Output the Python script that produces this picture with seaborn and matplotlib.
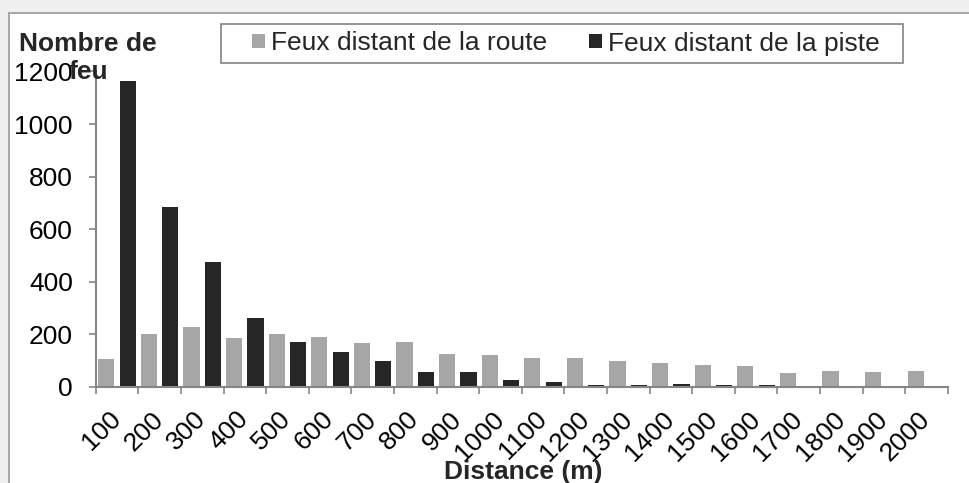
import matplotlib
matplotlib.use("Agg")
import matplotlib.pyplot as plt
from matplotlib.patches import Rectangle
import seaborn as sns
import pandas as pd
import numpy as np

# ---- data ----
distances = ["100", "200", "300", "400", "500", "600", "700", "800", "900", "1000",
             "1100", "1200", "1300", "1400", "1500", "1600", "1700", "1800", "1900", "2000"]
route = [108, 200, 229, 187, 201, 189, 168, 172, 125, 120,
         109, 109, 98, 91, 84, 79, 52, 61, 56, 60]
piste = [1162, 685, 474, 261, 170, 132, 98, 56, 56, 28,
         19, 6, 8, 11, 6, 6, 0, 0, 2, 0]
series_names = ["Feux distant de la route", "Feux distant de la piste"]
colors = ["#a6a6a6", "#262626"]
y_ticks = [0, 200, 400, 600, 800, 1000, 1200]

df = pd.DataFrame({
    "Distance": distances * 2,
    "Serie": [series_names[0]] * len(distances) + [series_names[1]] * len(distances),
    "Nombre": route + piste,
})

sns.set_theme(style="white")
plt.rcParams["font.family"] = ["Liberation Sans", "DejaVu Sans"]

FS = 19
W, H = 970, 483
fig = plt.figure(figsize=(W / 100, H / 100), dpi=100, facecolor="#f0f0f0")

# chart area frame
fig.patches.append(Rectangle((9.5 / W, -0.1), 1.2, 1.1 - 12.7 / H,
                             transform=fig.transFigure, facecolor="white",
                             edgecolor="#a0a0a0", linewidth=1.3, zorder=-10))

left, right, bottom, top = 95.7, 947.7, 387, 71.4
ax = fig.add_axes([left / W, 1 - bottom / H, (right - left) / W, (bottom - top) / H])
ax.set_facecolor("white")

sns.barplot(data=df, x="Distance", y="Nombre", hue="Serie", order=distances,
            hue_order=series_names, palette=colors, width=1.0, gap=0.235,
            saturation=1, ax=ax, edgecolor="none", linewidth=0)

ax.set_xlim(-0.5, len(distances) - 0.5)
ax.set_ylim(0, 1200)
ax.set_yticks(y_ticks)
ax.set_yticklabels([str(v) for v in y_ticks])
ax.set_xlabel("")
ax.set_ylabel("")

for s in ["top", "right"]:
    ax.spines[s].set_visible(False)
for s in ["left", "bottom"]:
    ax.spines[s].set_color("#868686")
    ax.spines[s].set_linewidth(1.5)

ax.tick_params(axis="y", which="major", length=5, width=1.2, color="#868686",
               direction="out", pad=11.5, labelsize=FS, left=True, labelcolor="black")
ax.set_xticks(np.arange(len(distances)))
ax.set_xticklabels(distances, rotation=45, ha="right", va="center",
                   rotation_mode="anchor")
ax.tick_params(axis="x", which="major", length=0, pad=20.5, labelsize=FS,
               labelcolor="black")
ax.set_xticks(np.arange(len(distances) + 1) - 0.5, minor=True)
ax.tick_params(axis="x", which="minor", length=5, width=1.2, color="#868686",
               direction="out", bottom=True)

leg = ax.get_legend()
handles, labels = ax.get_legend_handles_labels()
if leg is not None:
    leg.remove()
fig.legend(handles, labels, loc="center", bbox_to_anchor=(566 / W, 1 - 43.5 / H),
           ncol=2, frameon=False, fontsize=FS, handlelength=0.5, handleheight=0.42,
           handletextpad=0.22, columnspacing=1.6, borderpad=0)
fig.patches.append(Rectangle((221 / W, 1 - 63 / H), (903 - 221) / W, (63 - 24) / H,
                             transform=fig.transFigure, facecolor="white",
                             edgecolor="#8c8c8c", linewidth=1.3, zorder=-5))

fig.text(88 / W, 1 - 32 / H, "Nombre de\nfeu", ha="center", va="top",
         fontsize=FS, fontweight="bold", linespacing=1.22)
fig.text(523 / W, 1 - 472 / H, "Distance (m)", ha="center", va="center",
         fontsize=FS, fontweight="bold")

fig.savefig("out.png", dpi=100, facecolor=fig.get_facecolor())
